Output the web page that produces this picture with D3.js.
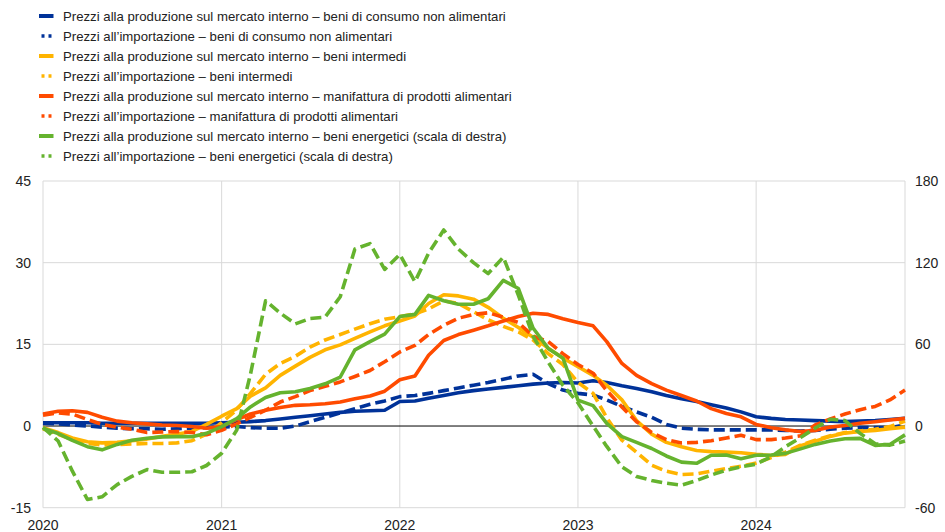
<!DOCTYPE html>
<html>
<head>
<meta charset="utf-8">
<script src="https://cdn.jsdelivr.net/npm/d3@7"></script>
<style>
  body { margin: 0; background: #fff; }
  svg text { font-family: "Liberation Sans", Arial, sans-serif; fill: #222; }
</style>
</head>
<body>
<svg id="chart" width="945" height="532"></svg>
<script>
// monthly, Jan 2020 .. Nov 2024
const startMonth = new Date(2020, 0, 1);
const nMonths = 59;

const seriesNames = [
  'Prezzi alla produzione sul mercato interno – beni di consumo non alimentari',
  'Prezzi all’importazione – beni di consumo non alimentari',
  'Prezzi alla produzione sul mercato interno – beni intermedi',
  'Prezzi all’importazione – beni intermedi',
  'Prezzi alla produzione sul mercato interno – manifattura di prodotti alimentari',
  'Prezzi all’importazione – manifattura di prodotti alimentari',
  'Prezzi alla produzione sul mercato interno – beni energetici (scala di destra)',
  'Prezzi all’importazione – beni energetici (scala di destra)'
];

const ppiConsumer = [
  0.6, 0.6, 0.6, 0.6, 0.5, 0.5, 0.5, 0.5, 0.5, 0.5, 0.5, 0.5,
  0.6, 0.7, 0.8, 1.0, 1.3, 1.6, 1.9, 2.2, 2.5, 2.7, 2.8, 2.9,
  4.5, 4.6, 5.1, 5.6, 6.1, 6.5, 6.8, 7.1, 7.4, 7.7, 7.9, 8.0,
  7.9, 8.3, 8.0, 7.4, 6.9, 6.3, 5.6, 5.0, 4.5, 3.9, 3.3, 2.6,
  1.7, 1.4, 1.2, 1.1, 1.0, 0.9, 0.8, 0.9, 1.0, 1.2, 1.4
];
const impConsumer = [
  0.5, 0.4, 0.2, 0.0, -0.2, -0.4, -0.5, -0.5, -0.6, -0.5, -0.4, -0.3,
  -0.2, -0.1, -0.3, -0.4, -0.4, 0.0, 0.8, 1.6, 2.4, 3.2, 4.0, 4.6,
  5.4, 5.6, 6.0, 6.5, 7.0, 7.5, 8.0, 8.6, 9.2, 9.5, 7.8, 6.6,
  6.0, 5.7, 4.8, 3.6, 2.6, 1.6, 0.3, -0.4, -0.6, -0.7, -0.7, -0.7,
  -0.7, -0.7, -0.8, -0.9, -0.8, -0.6, -0.4, -0.3, -0.3, -0.3, 0.2
];
const ppiIntermediate = [
  -0.3, -1.2, -2.2, -2.9, -3.1, -3.0, -2.7, -2.4, -1.9, -1.5, -1.0, 0.3,
  1.8, 3.2, 5.5, 7.0, 9.3, 11.0, 12.6, 14.0, 14.9, 16.1, 17.3, 18.4,
  19.3, 20.2, 22.5, 24.1, 23.9, 23.3, 21.8, 19.8, 18.1, 16.3, 14.3, 12.5,
  10.9, 9.3, 7.5, 4.8, 1.0, -1.5, -3.0, -3.8, -4.5, -4.7, -4.8, -4.9,
  -5.2, -5.4, -5.2, -3.6, -2.8, -1.9, -1.3, -1.0, -0.8, -0.5, -0.2
];
const impIntermediate = [
  -0.5, -1.5, -2.5, -3.2, -3.5, -3.4, -3.3, -3.2, -3.2, -3.1, -2.7, -1.5,
  0.6, 3.0, 6.0, 9.5, 11.5, 12.8, 14.5, 15.8, 16.8, 17.8, 18.8, 19.6,
  20.1, 20.6, 21.5, 23.0, 22.5, 21.0, 19.5, 18.3, 17.3, 15.8, 13.3, 11.3,
  8.0, 6.0, 1.5, -2.6, -4.8, -7.2, -8.3, -8.9, -8.8, -8.3, -7.8, -7.4,
  -6.8, -5.8, -4.8, -3.5, -2.6, -1.8, -1.2, -0.9, -0.6, -0.1, 0.9
];
const ppiFood = [
  2.2, 2.7, 2.8, 2.5, 1.6, 0.9, 0.6, 0.4, 0.2, 0.1, -0.1, -0.4,
  -0.1, 1.2, 2.2, 2.9, 3.4, 3.8, 3.9, 4.1, 4.4, 5.0, 5.5, 6.4,
  8.5, 9.2, 13.0, 15.7, 16.8, 17.6, 18.4, 19.3, 20.1, 20.7, 20.5, 19.7,
  19.0, 18.4, 15.5, 11.5, 9.3, 7.8, 6.6, 5.6, 4.6, 3.2, 2.3, 1.7,
  0.3, -0.3, -0.7, -1.0, -0.8, -0.2, 0.1, 0.5, 0.8, 1.1, 1.4
];
const impFood = [
  2.0, 2.4, 2.2, 1.2, 0.3, -0.2, -0.6, -1.2, -1.1, -1.0, -1.2, -1.6,
  -0.8, 0.4, 1.6, 2.9, 4.4, 5.4, 6.5, 7.3, 8.1, 9.1, 10.2, 11.8,
  13.6, 14.8, 16.8, 18.5, 19.8, 20.5, 20.8, 20.0, 19.0, 16.5, 15.5, 13.3,
  11.3, 9.7, 6.5, 3.5, 0.8, -1.2, -2.5, -3.1, -3.0, -2.7, -2.2, -1.7,
  -2.5, -2.5, -2.2, -1.8, 0.2, 1.3, 2.2, 3.0, 3.6, 4.8, 6.6
];
// energy series are on the right-hand scale
const ppiEnergy = [
  -1.7, -5.5, -10.5, -15.2, -17.5, -13.5, -10.5, -9.0, -8.0, -7.8, -7.8, -5.4,
  -0.5, 5.5, 14, 21, 24.5, 25.2, 27.5, 31, 36, 56, 62, 67.5,
  80.4, 82, 96, 92, 89.5, 89.5, 93.5, 107, 101, 72, 57, 50,
  19, 15, 2, -7.8, -12, -16.5, -22, -26.5, -27.4, -21.5, -21.3, -24,
  -21.5, -21.3, -20.1, -16.8, -13.5, -11, -9.3, -9.1, -14.2, -13.5, -6.5
];
const impEnergy = [
  -1, -11, -33, -54, -52, -43, -37, -32, -34, -34, -33.6, -29,
  -20, -3, 38, 92, 83, 75, 79, 80, 95, 130, 134, 115,
  126, 106, 127, 144, 130, 120, 112, 124, 96, 66, 47, 30,
  17, 0, -15, -30, -37, -40, -42, -43.4, -40, -36, -32.4, -30,
  -28, -22.5, -15.2, -8.5, -1.5, 5, 4, -5.4, -13, -14, -11
];

const leftTicks = [-15, 0, 15, 30, 45];
const rightTicks = [-60, 0, 60, 120, 180];
const yearTicks = [2020, 2021, 2022, 2023, 2024];

const colors = ['#003299', '#003299', '#FFB400', '#FFB400', '#FF4B00', '#FF4B00', '#65B32E', '#65B32E'];
const dashed = [false, true, false, true, false, true, false, true];
const rightAxis = [false, false, false, false, false, false, true, true];
const allValues = [ppiConsumer, impConsumer, ppiIntermediate, impIntermediate, ppiFood, impFood, ppiEnergy, impEnergy];

const svg = d3.select('#chart');

const plotLeft = 43, plotRight = 905, plotTop = 181, plotBottom = 507.7;

const x = d3.scaleTime()
  .domain([startMonth, new Date(2020, nMonths - 1, 1)])
  .range([plotLeft, plotRight]);
const y = d3.scaleLinear().domain([-15, 45]).range([plotBottom, plotTop]);
const y2 = d3.scaleLinear().domain([-60, 180]).range([plotBottom, plotTop]);

// grid
const grid = svg.append('g');
grid.selectAll('.hg')
  .data(leftTicks.filter(d => d !== 0))
  .enter().append('line')
  .attr('x1', plotLeft).attr('x2', plotRight)
  .attr('y1', d => y(d)).attr('y2', d => y(d))
  .attr('stroke', '#d9d9d9').attr('stroke-width', 1);
grid.selectAll('.vg')
  .data(yearTicks)
  .enter().append('line')
  .attr('x1', d => x(new Date(d, 0, 1))).attr('x2', d => x(new Date(d, 0, 1)))
  .attr('y1', plotTop).attr('y2', plotBottom)
  .attr('stroke', '#d9d9d9').attr('stroke-width', 1);
grid.append('line')
  .attr('x1', plotRight).attr('x2', plotRight)
  .attr('y1', plotTop).attr('y2', plotBottom)
  .attr('stroke', '#d9d9d9').attr('stroke-width', 1);
grid.append('line')
  .attr('x1', plotLeft).attr('x2', plotRight)
  .attr('y1', y(0)).attr('y2', y(0))
  .attr('stroke', '#000').attr('stroke-width', 1);

// axes labels
svg.append('g').selectAll('text')
  .data(leftTicks)
  .enter().append('text')
  .attr('x', 31).attr('y', d => y(d) + 5)
  .attr('text-anchor', 'end')
  .attr('font-size', 14)
  .text(d => d);
svg.append('g').selectAll('text')
  .data(rightTicks)
  .enter().append('text')
  .attr('x', 915).attr('y', d => y2(d) + 5)
  .attr('font-size', 14)
  .text(d => d);
svg.append('g').selectAll('text')
  .data(yearTicks)
  .enter().append('text')
  .attr('x', d => x(new Date(d, 0, 1)))
  .attr('y', 530)
  .attr('text-anchor', 'middle')
  .attr('font-size', 14)
  .text(d => d);

// lines
const lines = svg.append('g');
allValues.forEach(function(vals, i) {
  const ys = rightAxis[i] ? y2 : y;
  const line = d3.line()
    .x(function(d, j) { return x(new Date(2020, j, 1)); })
    .y(function(d) { return ys(d); });
  lines.append('path')
    .datum(vals)
    .attr('fill', 'none')
    .attr('stroke', colors[i])
    .attr('stroke-width', 3.6)
    .attr('stroke-linejoin', 'round')
    .attr('stroke-dasharray', dashed[i] ? '11,5' : null)
    .attr('d', line);
});

// legend
const legend = svg.append('g');
seriesNames.forEach(function(name, i) {
  const cy = 16 + i * 20;
  if (dashed[i]) {
    legend.append('line')
      .attr('x1', 41.5).attr('x2', 52)
      .attr('y1', cy).attr('y2', cy)
      .attr('stroke', colors[i]).attr('stroke-width', 3.5)
      .attr('stroke-dasharray', '3,4');
  } else {
    legend.append('line')
      .attr('x1', 39).attr('x2', 53.5)
      .attr('y1', cy).attr('y2', cy)
      .attr('stroke', colors[i]).attr('stroke-width', 4);
  }
  legend.append('text')
    .attr('x', 63).attr('y', cy + 5)
    .attr('font-size', 13.2)
    .text(name);
});
</script>
</body>
</html>
